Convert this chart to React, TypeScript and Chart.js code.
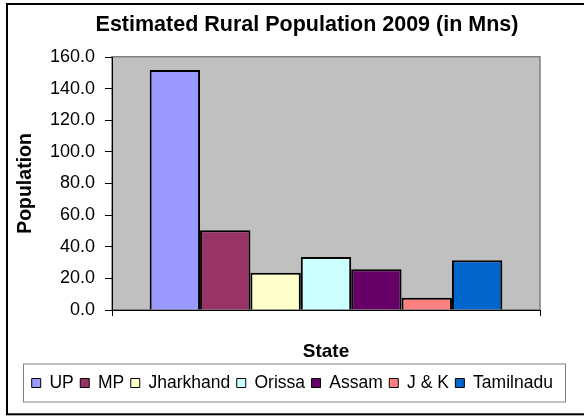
import { useEffect, useRef } from 'react';
import { Chart, registerables } from 'chart.js';

Chart.register(...registerables);

const categories = [''];
const states = ['UP', 'MP', 'Jharkhand', 'Orissa', 'Assam', 'J & K', 'Tamilnadu'];
const population = [151.8, 50.4, 23.6, 33.5, 25.7, 7.8, 31.4];
const colors = ['#9999FF', '#993366', '#FFFFCC', '#CCFFFF', '#660066', '#FF8080', '#0066CC'];
const yMin = 0;
const yMax = 160;
const yStep = 20;
const titleText = 'Estimated Rural Population 2009 (in Mns)';
const xTitle = 'State';
const yTitle = 'Population';

const FONT = "'Liberation Sans', Arial, sans-serif";

export default function App() {
  const ref = useRef<HTMLCanvasElement>(null);

  useEffect(() => {
    document.body.style.margin = '0';
    const canvas = ref.current;
    if (!canvas) return;

    const decor = {
      id: 'decor',
      beforeDraw(chart: any) {
        const ctx = chart.ctx;
        const ca = chart.chartArea;
        ctx.save();
        ctx.fillStyle = '#ffffff';
        ctx.fillRect(0, 0, chart.width, chart.height);
        ctx.strokeStyle = '#000000';
        ctx.lineWidth = 2;
        ctx.strokeRect(7, 4, 600, 410.3);
        ctx.fillStyle = '#C0C0C0';
        ctx.fillRect(ca.left, ca.top, ca.right - ca.left, ca.bottom - ca.top);
        ctx.strokeStyle = '#808080';
        ctx.lineWidth = 1.5;
        ctx.strokeRect(ca.left, ca.top - 0.25, ca.right - ca.left, ca.bottom - ca.top);
        ctx.restore();
      },
      afterDraw(chart: any) {
        const ctx = chart.ctx;
        const lg = chart.legend;
        if (!lg) return;
        ctx.save();
        ctx.strokeStyle = '#808080';
        ctx.lineWidth = 1;
        ctx.strokeRect(23.5, lg.top - 3.75, 542, 38);
        ctx.restore();
      },
    };

    Chart.defaults.font.family = FONT;
    Chart.defaults.color = '#000';
    const baseLabels = Chart.defaults.plugins.legend.labels.generateLabels;

    const chart = new Chart(canvas, {
      type: 'bar',
      data: {
        labels: categories,
        datasets: states.map((s, i) => ({
          label: s,
          data: [population[i]],
          backgroundColor: colors[i],
          borderColor: '#000000',
          borderWidth: 2,
          categoryPercentage: 0.824,
          barPercentage: 1,
          xAxisID: 'x',
          yAxisID: 'y',
        })),
      },
      options: {
        responsive: false,
        maintainAspectRatio: false,
        animation: false,
        events: [],
        layout: { padding: { left: 25.2, right: -4.8, top: 0, bottom: 16.25 } },
        scales: {
          x: {
            offset: true,
            ticks: { display: false },
            grid: { display: true, drawOnChartArea: false, drawTicks: true, tickLength: 6, color: '#000', offset: true },
            border: { display: true, color: '#000', width: 1 },
            title: {
              display: true,
              text: xTitle,
              color: '#000',
              font: { family: FONT, size: 19, weight: 'bold' },
              padding: { top: 0, bottom: 4.35 },
            },
            afterFit: (s: any) => {
              s.height = 57.75;
            },
          },
          y: {
            position: 'left',
            min: yMin,
            max: yMax,
            ticks: {
              stepSize: yStep,
              color: '#000',
              padding: 10,
              font: { family: FONT, size: 18 },
              callback: (v: any) => Number(v).toFixed(1),
            },
            grid: { drawOnChartArea: false, drawTicks: true, tickLength: 7, color: '#000', lineWidth: 1 },
            border: { display: true, color: '#000', width: 1 },
            title: {
              display: true,
              text: yTitle,
              color: '#000',
              font: { family: FONT, size: 19.5, weight: 'bold' },
              padding: { top: -10.9, bottom: 0 },
            },
            afterFit: (s: any) => {
              s.width = 86.8;
            },
          },
          yR: {
            position: 'right',
            display: true,
            grid: { display: false },
            border: { display: false },
            ticks: { display: false },
            afterFit: (s: any) => {
              s.width = 48.8;
            },
          },
        },
        plugins: {
          tooltip: { enabled: false },
          title: {
            display: true,
            text: titleText,
            color: '#000',
            font: { family: FONT, size: 21.5, weight: 'bold' },
            padding: { top: 12.1, bottom: 19.1 },
          },
          legend: {
            position: 'bottom',
            align: 'start',
            labels: {
              color: '#000',
              font: { family: FONT, size: 17.5 },
              boxWidth: 9,
              boxHeight: 9,
              padding: 6.5,
              generateLabels: (c: any) =>
                baseLabels(c).map((it: any) => ({ ...it, lineWidth: 1 })),
            },
          },
        },
      },
      plugins: [decor],
    } as any);

    return () => {
      chart.destroy();
    };
  }, []);

  return (
    <canvas
      ref={ref}
      width={584}
      height={418}
      style={{ display: 'block', width: '584px', height: '418px' }}
    />
  );
}
